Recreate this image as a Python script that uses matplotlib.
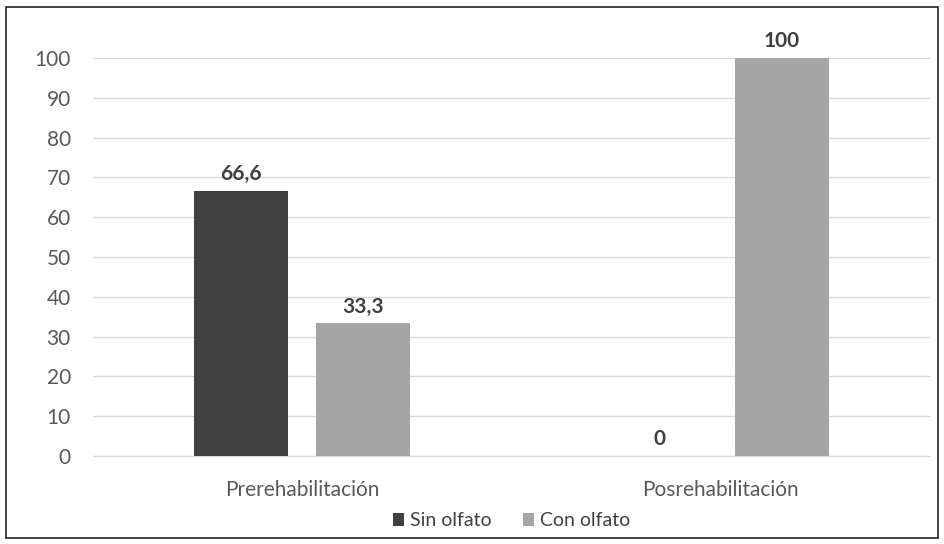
import matplotlib
matplotlib.use("Agg")
import matplotlib.pyplot as plt
import numpy as np
from matplotlib.patches import Rectangle

categories = ["Prerehabilitación", "Posrehabilitación"]
sin_olfato = [66.6, 0]
con_olfato = [33.3, 100]
sin_labels = ["66,6", "0"]
con_labels = ["33,3", "100"]

plt.rcParams["font.family"] = ["Lato", "DejaVu Sans"]

fig = plt.figure(figsize=(9.44, 5.44), dpi=100)
ax = fig.add_axes([93 / 944, 1 - 456 / 544, 837 / 944, 398 / 544])

x = np.arange(len(categories))
w = 0.225
off = 0.146
b1 = ax.bar(x - off, sin_olfato, w, color="#404040", label="Sin olfato", zorder=3)
b2 = ax.bar(x + off, con_olfato, w, color="#a5a5a5", label="Con olfato", zorder=3)

for bars, labs in ((b1, sin_labels), (b2, con_labels)):
    for rect, lab in zip(bars, labs):
        ax.annotate(lab, (rect.get_x() + rect.get_width() / 2, rect.get_height()),
                    xytext=(0, 5), textcoords="offset points", ha="center", va="bottom",
                    fontsize=15, fontweight="bold", color="#404040")

ax.set_xlim(-0.5, 1.5)
ax.set_ylim(0, 100)
ax.set_yticks(range(0, 101, 10))
ax.set_xticks(x)
ax.set_xticklabels(categories)
ax.grid(axis="y", color="#d9d9d9", linewidth=1, zorder=0)
for s in ("top", "right", "left"):
    ax.spines[s].set_visible(False)
ax.spines["bottom"].set_color("#d9d9d9")
ax.tick_params(axis="both", length=0, colors="#595959", labelsize=15)
ax.tick_params(axis="y", pad=16)
ax.tick_params(axis="x", pad=17)
ax.set_clip_on(False)

ax.legend(loc="center", bbox_to_anchor=(0.5, -0.163), ncol=2, frameon=False,
          fontsize=14, handlelength=0.6, handleheight=0.6, handletextpad=0.3,
          columnspacing=1.6, labelcolor="#404040")

fig.patches.append(Rectangle((6 / 944, 6 / 544), 932 / 944, 531 / 544, transform=fig.transFigure,
                             fill=False, edgecolor="#222222", linewidth=1.2))

fig.savefig("out.png", dpi=100)
